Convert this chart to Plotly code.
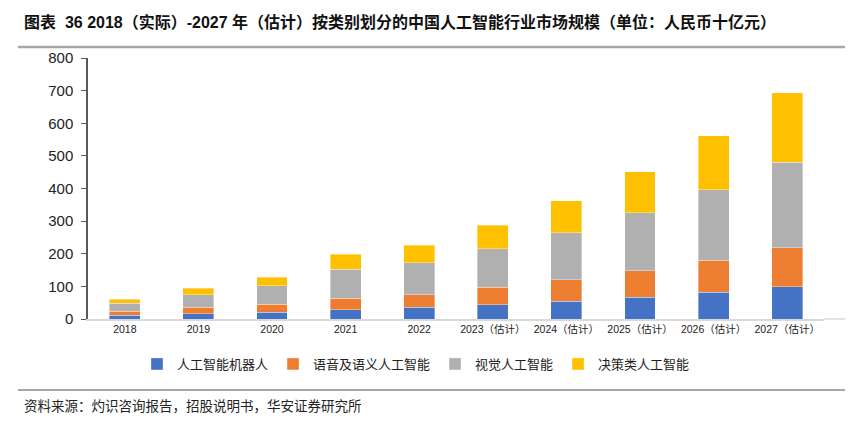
import plotly.graph_objects as go

categories = ["2018", "2019", "2020", "2021", "2022",
              "2023（估计）", "2024（估计）", "2025（估计）", "2026（估计）", "2027（估计）"]
robot = [12, 16, 21, 29, 36, 44, 54, 66, 82, 99]
speech = [12, 20, 24, 35, 39, 53, 66, 82, 98, 120]
vision = [24, 38, 57, 88, 97, 118, 145, 177, 216, 262]
decision = [12, 20, 26, 47, 54, 73, 98, 127, 166, 212]
series_names = ["人工智能机器人", "语音及语义人工智能", "视觉人工智能", "决策类人工智能"]
colors = ["#4472C4", "#ED7D31", "#B0B0B0", "#FFC000"]
y_ticks = [0, 100, 200, 300, 400, 500, 600, 700, 800]

title_text = "图表  36 2018（实际）-2027 年（估计）按类别划分的中国人工智能行业市场规模（单位：人民币十亿元）"
source_text = "资料来源：灼识咨询报告，招股说明书，华安证券研究所"

CJK = "Liberation Sans, Arial, Noto Sans CJK SC"

# page body has an 8px default margin; compensate so the screenshot matches
OFF = 8
W, H = 853, 422
L, R, T, B = 88 - OFF, 29 + OFF, 58 - OFF, 103 + OFF

fig = go.Figure()
for name, vals, col in zip(series_names, [robot, speech, vision, decision], colors):
    fig.add_trace(go.Bar(
        x=categories, y=vals, name=name,
        marker=dict(color=col, line=dict(color="rgba(255,255,255,0.6)", width=0.6)),
        width=0.42,
    ))

pw = W - L - R
ph = H - T - B
def px_x(px):
    return (px - OFF - L) / pw
def px_y(py):
    return (H - B - (py - OFF)) / ph

fig.update_layout(
    barmode="stack",
    width=W, height=H,
    paper_bgcolor="white", plot_bgcolor="white",
    margin=dict(l=L, r=R, t=T, b=B, autoexpand=False),
    font=dict(family=CJK, color="#000000"),
    showlegend=True,
    legend=dict(orientation="h", x=px_x(416), xanchor="center", y=px_y(364), yanchor="middle",
                font=dict(size=13, family="Noto Sans CJK SC", color="#222222"),
                traceorder="normal", itemwidth=30),
    xaxis=dict(showline=True, linecolor="#D9D9D9", linewidth=1.5, ticks="",
               tickfont=dict(size=10.5, family=CJK, color="#222222"),
               showgrid=False),
    yaxis=dict(range=[0, 800], tickvals=y_ticks, showline=True, linecolor="#595959", linewidth=1.5,
               ticks="outside", ticklen=5, tickcolor="#595959", tickwidth=1,
               ticklabelstandoff=5,
               tickfont=dict(size=15, family="Liberation Sans, Arial", color="#222222"),
               showgrid=False, zeroline=False),
    annotations=[
        dict(text="<b>" + title_text + "</b>", x=px_x(22), y=px_y(22), xref="paper", yref="paper",
             showarrow=False, xanchor="left", yanchor="middle",
             font=dict(size=16, family=CJK, color="#111111")),
        dict(text=source_text, x=px_x(22), y=px_y(405), xref="paper", yref="paper",
             showarrow=False, xanchor="left", yanchor="middle",
             font=dict(size=13.5, family="Noto Sans CJK SC", color="#222222")),
    ],
    shapes=[
        dict(type="line", xref="paper", yref="paper",
             x0=px_x(18), x1=px_x(860), y0=px_y(47), y1=px_y(47),
             line=dict(color="#A6A6A6", width=2.5)),
        dict(type="line", xref="paper", yref="paper",
             x0=px_x(18), x1=px_x(860), y0=px_y(390), y1=px_y(390),
             line=dict(color="#A6A6A6", width=2)),
        dict(type="line", xref="paper", yref="paper",
             x0=1, x1=px_x(860), y0=0, y1=0,
             line=dict(color="#D9D9D9", width=1.5)),
    ],
)

fig.write_html("out.html")
